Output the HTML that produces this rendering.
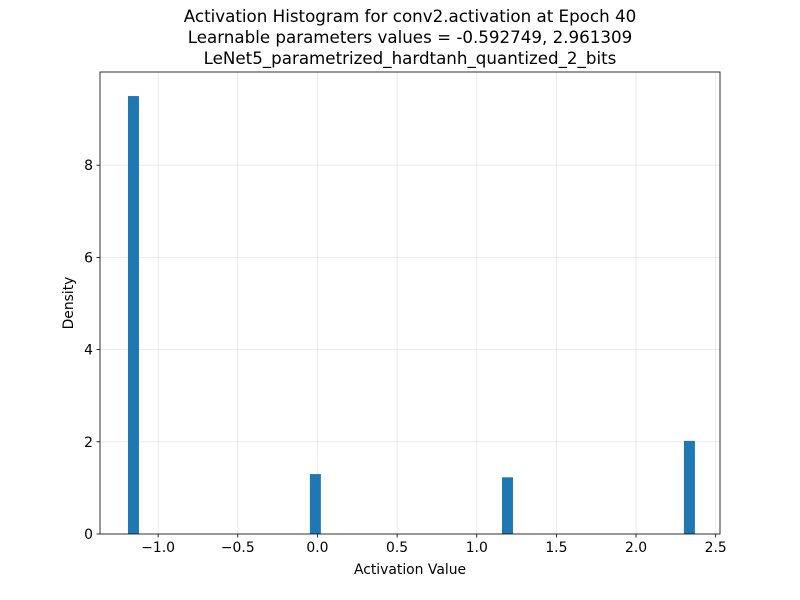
<!DOCTYPE html>
<html><head><meta charset="utf-8"><style>body{margin:0;background:#fff}svg{display:block;font-family:"DejaVu Sans","Liberation Sans",sans-serif}</style></head>
<body>
<svg id="chart" width="800" height="600">
<rect width="800" height="600" fill="#fff"/>
<g font-size="16.7" text-anchor="middle" fill="#000">
<text x="410" y="22">Activation Histogram for conv2.activation at Epoch 40</text>
<text x="410" y="43">Learnable parameters values = -0.592749, 2.961309</text>
<text x="410" y="64">LeNet5_parametrized_hardtanh_quantized_2_bits</text>
</g>
<g id="grid"></g><g id="bars"></g><g id="axes"></g>
<text x="410" y="574" font-size="13.9" text-anchor="middle">Activation Value</text>
<text x="73" y="303" font-size="13.9" text-anchor="middle" transform="rotate(-90 73 303)">Density</text>
</svg>
<script>
const binCenters=[-1.155,-0.013,1.193,2.335];
const densities=[9.5,1.3,1.23,2.02];
const binWidth=0.069;
const xTicks=[-1.0,-0.5,0.0,0.5,1.0,1.5,2.0,2.5];
const yTicks=[0,2,4,6,8];
const L=100,R=720,T=72,B=534;
const xMin=-1.365,xMax=2.527,yMax=(534-72)/46.1;
const X=v=>L+(v-xMin)/(xMax-xMin)*(R-L);
const Y=v=>B-v/yMax*(B-T);
const NS='http://www.w3.org/2000/svg';
function mk(t,a,p){const e=document.createElementNS(NS,t);for(const k in a)e.setAttribute(k,a[k]);p.appendChild(e);return e;}
const grid=document.getElementById('grid'),bars=document.getElementById('bars'),axes=document.getElementById('axes');
xTicks.forEach(t=>{const x=X(t);
const g=mk('line',{x1:x,x2:x,y1:T,y2:B,stroke:'#b0b0b0','stroke-opacity':0.3,'stroke-width':0.8},grid);

const tk=mk('line',{x1:x,x2:x,y1:B,y2:B+3.5,stroke:'#000','stroke-width':0.8},axes);

const lb=mk('text',{x:x,y:B+18,'font-size':13.9,'text-anchor':'middle'},axes);lb.textContent=t.toFixed(1).replace('-','\u2212');
});
yTicks.forEach(t=>{const y=Y(t);
const g=mk('line',{x1:L,x2:R,y1:y,y2:y,stroke:'#b0b0b0','stroke-opacity':0.3,'stroke-width':0.8},grid);

const tk=mk('line',{x1:L-3.5,x2:L,y1:y,y2:y,stroke:'#000','stroke-width':0.8},axes);

const lb=mk('text',{x:L-7,y:y+5,'font-size':13.9,'text-anchor':'end'},axes);lb.textContent=t;
});
binCenters.forEach((c,i)=>{const x0=X(c-binWidth/2),x1=X(c+binWidth/2);
const r=mk('rect',{x:x0,y:Y(densities[i]),width:x1-x0,height:B-Y(densities[i]),fill:'#1f77b4'},bars);
});
const f=mk('rect',{x:L,y:T,width:R-L,height:B-T,fill:'none',stroke:'#000','stroke-width':0.8},axes);

</script>
</body></html>
